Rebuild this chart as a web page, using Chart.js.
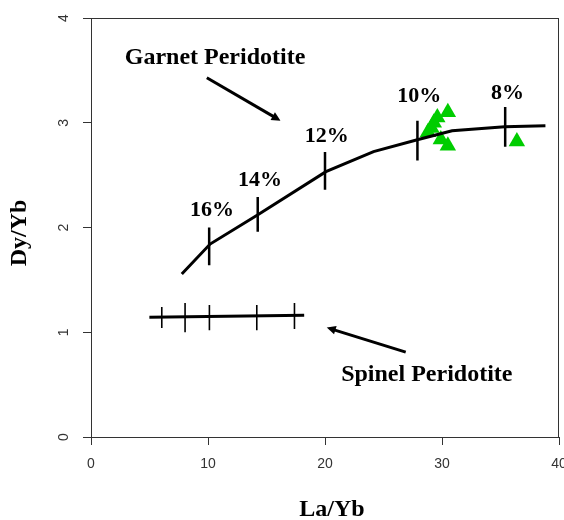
<!DOCTYPE html>
<html>
<head>
<meta charset="utf-8">
<script src="https://cdn.jsdelivr.net/npm/chart.js@4/dist/chart.umd.min.js"></script>
<style>
  html, body { margin: 0; padding: 0; background: #fff; }
  #wrap { width: 564px; height: 520px; }
</style>
</head>
<body>
<div id="wrap"><canvas id="ratioChart" width="564" height="520"></canvas></div>
<script>
// garnet peridotite melting curve
const garnetLaYb = [7.76, 10.18, 14.23, 20.08, 24.15, 27.97, 30.86, 35.36, 38.84];
const garnetDyYb = [1.556, 1.842, 2.119, 2.533, 2.724, 2.840, 2.924, 2.962, 2.972];

// melt fraction marks on the garnet curve
const meltPct = ['16%', '14%', '12%', '10%', '8%'];
const meltLaYb = [10.1, 14.25, 20.0, 27.9, 35.4];
const meltLow = [1.64, 1.96, 2.36, 2.64, 2.77];
const meltHigh = [2.00, 2.29, 2.72, 3.02, 3.15];
const meltLabelLaYb = [10.35, 14.45, 20.15, 28.05, 35.6];
const meltLabelDyYb = [2.16, 2.45, 2.87, 3.25, 3.28];

// spinel peridotite curve + its marks
const spinelLaYb = [4.99, 18.22];
const spinelDyYb = [1.143, 1.162];
const spinelTickLaYb = [6.05, 8.04, 10.12, 14.17, 17.39];
const spinelTickLow = [1.04, 1.00, 1.02, 1.02, 1.03];
const spinelTickHigh = [1.24, 1.28, 1.26, 1.26, 1.28];

// samples
const sampleLaYb = [30.5, 29.6, 29.3, 29.1, 28.8, 29.9, 30.5, 36.4];
const sampleDyYb = [3.10, 3.05, 3.00, 2.95, 2.91, 2.84, 2.78, 2.82];

// axis ticks
const xTicks = [0, 10, 20, 30, 40];
const yTicks = [0, 1, 2, 3, 4];

// annotations: [text, x, y] and arrows [x0, y0, x1, y1]
const fieldLabels = [['Garnet Peridotite', 10.6, 3.62], ['Spinel Peridotite', 28.7, 0.59]];
const fieldArrows = [[9.9, 3.43, 16.2, 3.02], [26.9, 0.81, 20.15, 1.045]];

const toPts = (xs, ys) => xs.map((x, i) => ({ x: x, y: ys[i] }));
const segs = (xs, lo, hi) => {
    const out = [];
    xs.forEach((x, i) => {
        out.push({ x: x, y: lo[i] }, { x: x, y: hi[i] }, { x: x, y: null });
    });
    return out;
};

const serif = '"Liberation Serif", "DejaVu Serif", serif';
const sans = '"Liberation Sans", Arial, sans-serif';

const decor = {
    id: 'decor',
    afterDraw(chart) {
        const c = chart.ctx, xs = chart.scales.x, ys = chart.scales.y, a = chart.chartArea;
        c.save();
        // box
        c.strokeStyle = '#333';
        c.lineWidth = 1;
        c.strokeRect(a.left + 0.5, a.top + 0.5, a.right - a.left - 1, a.bottom - a.top);

        // tick labels
        c.fillStyle = '#333';
        c.font = '14px ' + sans;
        c.textAlign = 'center';
        c.textBaseline = 'middle';
        xTicks.forEach(v => c.fillText(String(v), xs.getPixelForValue(v), 464));
        yTicks.forEach(v => {
            c.save();
            c.translate(64, ys.getPixelForValue(v));
            c.rotate(-Math.PI / 2);
            c.fillText(String(v), 0, 0);
            c.restore();
        });

        // axis titles
        c.fillStyle = '#000';
        c.font = 'bold 24px ' + serif;
        c.fillText('La/Yb', 332, 510);
        c.save();
        c.translate(20, 233);
        c.rotate(-Math.PI / 2);
        c.fillText('Dy/Yb', 0, 0);
        c.restore();

        // melt % labels
        c.font = 'bold 22px ' + serif;
        meltPct.forEach((t, i) => {
            c.fillText(t, xs.getPixelForValue(meltLabelLaYb[i]), ys.getPixelForValue(meltLabelDyYb[i]));
        });
        c.font = 'bold 24px ' + serif;
        fieldLabels.forEach(l => c.fillText(l[0], xs.getPixelForValue(l[1]), ys.getPixelForValue(l[2])));

        // arrows
        c.strokeStyle = '#000';
        c.fillStyle = '#000';
        c.lineWidth = 3;
        fieldArrows.forEach(ar => {
            const x0 = xs.getPixelForValue(ar[0]), y0 = ys.getPixelForValue(ar[1]);
            const x1 = xs.getPixelForValue(ar[2]), y1 = ys.getPixelForValue(ar[3]);
            const ang = Math.atan2(y1 - y0, x1 - x0), hl = 10, hw = 0.45;
            c.beginPath();
            c.moveTo(x0, y0);
            c.lineTo(x1 - Math.cos(ang) * 6, y1 - Math.sin(ang) * 6);
            c.stroke();
            c.beginPath();
            c.moveTo(x1, y1);
            c.lineTo(x1 - hl * Math.cos(ang - hw), y1 - hl * Math.sin(ang - hw));
            c.lineTo(x1 - hl * Math.cos(ang + hw), y1 - hl * Math.sin(ang + hw));
            c.closePath();
            c.fill();
        });
        c.restore();
    }
};

new Chart(document.getElementById('ratioChart'), {
    type: 'scatter',
    data: {
        datasets: [
            {
                label: 'Garnet',
                data: toPts(garnetLaYb, garnetDyYb),
                showLine: true,
                borderColor: '#000',
                borderWidth: 3,
                pointRadius: 0,
                order: 1
            },
            {
                label: 'Melt marks',
                data: segs(meltLaYb, meltLow, meltHigh),
                showLine: true,
                spanGaps: false,
                borderColor: '#000',
                borderWidth: 2.5,
                pointRadius: 0,
                order: 1
            },
            {
                label: 'Spinel',
                data: toPts(spinelLaYb, spinelDyYb),
                showLine: true,
                borderColor: '#000',
                borderWidth: 3,
                pointRadius: 0,
                order: 1
            },
            {
                label: 'Spinel marks',
                data: segs(spinelTickLaYb, spinelTickLow, spinelTickHigh),
                showLine: true,
                spanGaps: false,
                borderColor: '#000',
                borderWidth: 1.6,
                pointRadius: 0,
                order: 1
            },
            {
                label: 'Samples',
                data: toPts(sampleLaYb, sampleDyYb),
                pointStyle: 'triangle',
                pointRadius: 9.5,
                backgroundColor: '#00cd00',
                borderColor: '#00cd00',
                borderWidth: 0,
                order: 3
            }
        ]
    },
    options: {
        responsive: false,
        animation: false,
        layout: { autoPadding: false, padding: { left: 0, right: 5, top: 18, bottom: 0 } },
        plugins: {
            legend: { display: false },
            tooltip: { enabled: false }
        },
        scales: {
            x: {
                type: 'linear',
                min: 0, max: 40,
                ticks: { stepSize: 10, display: false },
                grid: { drawOnChartArea: false, tickLength: 8, color: '#333', tickWidth: 1 },
                border: { color: '#333', width: 1 },
                afterFit: s => { s.height = 83; }
            },
            y: {
                type: 'linear',
                min: 0, max: 4,
                ticks: { stepSize: 1, display: false },
                grid: { drawOnChartArea: false, tickLength: 8, color: '#333', tickWidth: 1 },
                border: { color: '#333', width: 1 },
                afterFit: s => { s.width = 91; }
            }
        }
    },
    plugins: [decor]
});
</script>
</body>
</html>
